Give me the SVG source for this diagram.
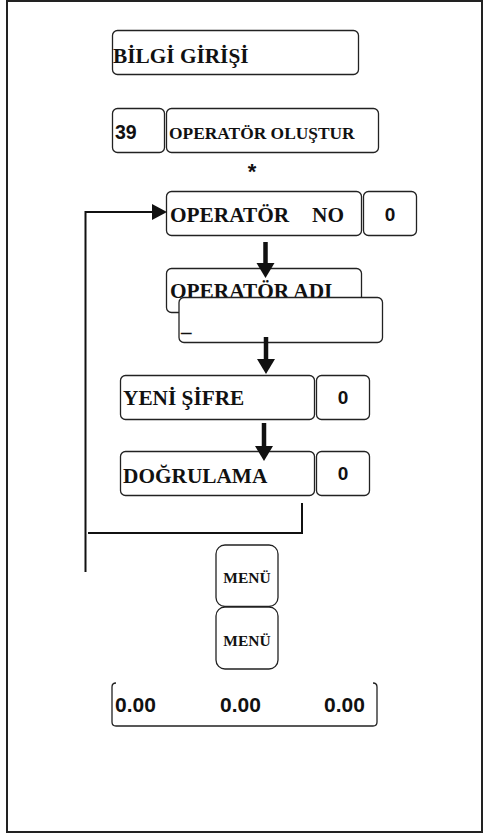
<svg xmlns="http://www.w3.org/2000/svg" width="483" height="834" viewBox="0 0 483 834">
<style>
.box{fill:#fff;stroke:#222;stroke-width:1.3}
.t{font-family:"Liberation Serif","Times New Roman",serif;font-weight:bold;fill:#111}
.a{font-family:"Liberation Sans",Arial,sans-serif;font-weight:bold;fill:#111}
.ln{fill:none;stroke:#111;stroke-width:2}
.stem{fill:none;stroke:#111;stroke-width:4.5}
</style>
<rect x="7" y="1" width="475" height="831" fill="#fff" stroke="#222" stroke-width="2"/>

<g id="bilgi-girisi">
<rect class="box" x="112.5" y="30.5" width="246" height="44" rx="5"/>
<text class="t" x="113" y="63" font-size="21.3">BİLGİ GİRİŞİ</text>
</g>
<g id="code-39">
<rect class="box" x="112.5" y="108.5" width="52" height="44" rx="5"/>
<text class="a" x="115" y="139" font-size="19.5">39</text>
</g>
<g id="operator-olustur">
<rect class="box" x="166.5" y="108.5" width="212" height="44" rx="5"/>
<text class="t" x="169" y="138.5" font-size="17.4">OPERATÖR OLUŞTUR</text>
</g>
<g id="asterisk">
<text class="a" x="252" y="179" font-size="22" text-anchor="middle">*</text>
</g>

<g id="operator-adi">
<rect class="box" x="166.5" y="268.5" width="195" height="44" rx="5"/>
<text class="t" x="170" y="298" font-size="21.3">OPERATÖR ADI</text>
</g>
<g id="name-input">
<rect class="box" x="179" y="297.5" width="203.5" height="45" rx="5"/>
<text class="t" x="181" y="331" font-size="21">_</text>
</g>

<g id="operator-no">
<rect class="box" x="166.5" y="191.5" width="195" height="44" rx="5"/>
<text class="t" x="170" y="222" font-size="21.3">OPERATÖR<tspan x="312">NO</tspan></text>
</g>
<g id="operator-no-val">
<rect class="box" x="363.5" y="191.5" width="53" height="44" rx="5"/>
<text class="a" x="390" y="221" font-size="19" text-anchor="middle">0</text>
</g>

<g id="yeni-sifre">
<rect class="box" x="120.5" y="375.5" width="194" height="44" rx="5"/>
<text class="t" x="123" y="405" font-size="21.3">YENİ ŞİFRE</text>
</g>
<g id="yeni-sifre-val">
<rect class="box" x="316.5" y="375.5" width="53" height="44" rx="5"/>
<text class="a" x="343" y="404" font-size="19" text-anchor="middle">0</text>
</g>
<g id="dogrulama">
<rect class="box" x="120.5" y="451.5" width="194" height="44" rx="5"/>
<text class="t" x="123" y="483" font-size="21.3">DOĞRULAMA</text>
</g>
<g id="dogrulama-val">
<rect class="box" x="316.5" y="451.5" width="53" height="44" rx="5"/>
<text class="a" x="343" y="480" font-size="19" text-anchor="middle">0</text>
</g>

<g id="menu-1">
<rect class="box" x="216" y="545" width="62" height="61.5" rx="9"/>
<text class="t" x="247" y="583" font-size="15.5" text-anchor="middle">MENÜ</text>
</g>
<g id="menu-2">
<rect class="box" x="216" y="607" width="62" height="62" rx="9"/>
<text class="t" x="247" y="646" font-size="15.5" text-anchor="middle">MENÜ</text>
</g>

<g id="totals">
<path d="M116 683 Q112 683 112 687 V722 Q112 726 116 726 H373 Q377 726 377 722 V687 Q377 683 373 683" fill="none" stroke="#222" stroke-width="1.3"/>
<text class="a" x="115" y="712" font-size="21">0.00</text>
<text class="a" x="220" y="712" font-size="21">0.00</text>
<text class="a" x="324" y="712" font-size="21">0.00</text>
</g>

<g id="connectors">
<path class="ln" d="M85.5 572 V212 H153"/>
<polygon points="152,204 167,212 152,220" fill="#111"/>
<path class="ln" d="M302 503 V533 H88"/>
<path class="stem" d="M265.5 242 V264"/>
<polygon points="256.5,263 274.5,263 265.5,278" fill="#111"/>
<path class="stem" d="M266 337 V360"/>
<polygon points="257,359 275,359 266,374" fill="#111"/>
<path class="stem" d="M264 423 V447"/>
<polygon points="255,446 273,446 264,461" fill="#111"/>
</g>
</svg>
